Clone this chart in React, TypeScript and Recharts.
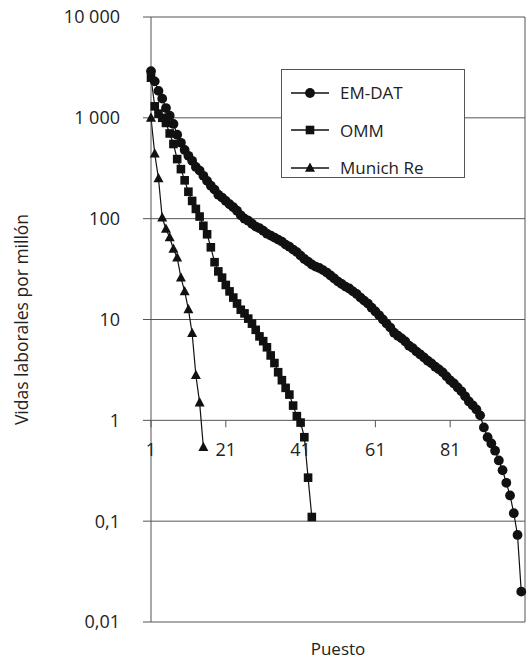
import React from 'react';
import { LineChart, Line, XAxis, YAxis, CartesianGrid, ReferenceLine, ReferenceDot, Legend } from 'recharts';

// values, one per rank (puesto)
const emdatValues = [
  2900, 2300, 1850, 1550, 1250, 1050, 870, 680, 565, 480,
  420, 375, 326, 300, 266, 237, 212, 194, 173, 162,
  150, 139, 130, 120, 108, 100, 95.5, 89, 83.5, 80.5,
  76, 71, 68, 65, 62, 59.2, 55.3, 52.7, 49.4, 46.6,
  43, 39.8, 37.5, 35.1, 33.5, 32.4, 30.9, 29.2, 27.3, 25.5,
  23.8, 22.5, 21.2, 20.3, 19, 17.9, 16.5, 15.4, 14.4, 13.1,
  12, 11, 10, 9.1, 8.3, 7.4, 6.9, 6.5, 6.05, 5.5,
  5.2, 4.8, 4.5, 4.2, 3.9, 3.67, 3.4, 3.2, 2.99, 2.73,
  2.49, 2.32, 2.12, 1.94, 1.73, 1.54, 1.41, 1.28, 1.12, 0.85,
  0.68, 0.59, 0.5, 0.4, 0.32, 0.24, 0.18, 0.12, 0.073, 0.02,
];
const ommValues = [
  2500, 1300, 1100, 1000, 890, 700, 550, 390, 310, 240,
  185, 150, 125, 105, 85, 70, 52, 37, 30, 26,
  22, 19, 16.5, 14.4, 12.5, 11.5, 10.2, 9.1, 7.9, 6.8,
  6.1, 5.3, 4.4, 3.7, 3.0, 2.5, 2.1, 1.8, 1.4, 1.1,
  0.95, 0.68, 0.27, 0.11,
];
const munichValues = [1000, 440, 250, 102, 79, 65, 50, 41, 26, 19, 12.6, 7.3, 2.8, 1.5, 0.54];

const yTicks = [0.01, 0.1, 1, 10, 100, 1000, 10000];
const xTickLabels = [1, 21, 41, 61, 81];
const seriesNames = ['EM-DAT', 'OMM', 'Munich Re'];

const toPoints = (vals: number[]) => vals.map((v, i) => ({ rank: i + 1, value: v }));

const FONT = '"Open Sans", sans-serif';
const GRID = '#555';
const INK = '#222';

const fmtY = (v: number) => {
  if (v >= 1000) return String(v).replace(/\B(?=(\d{3})+(?!\d))/g, ' ');
  return String(v).replace('.', ',');
};

const Circle = (p: any) => {
  const { cx, cy, index } = p;
  if (cx == null || cy == null) return <g key={index} />;
  return <circle key={index} cx={cx} cy={cy} r={4.9} fill="#111" />;
};
const Square = (p: any) => {
  const { cx, cy, index } = p;
  if (cx == null || cy == null) return <g key={index} />;
  return <rect key={index} x={cx - 4.3} y={cy - 4.3} width={8.6} height={8.6} fill="#111" />;
};
const Triangle = (p: any) => {
  const { cx, cy, index } = p;
  if (cx == null || cy == null) return <g key={index} />;
  return <polygon key={index} points={`${cx},${cy - 5.5} ${cx + 5},${cy + 3.8} ${cx - 5},${cy + 3.8}`} fill="#111" />;
};

const markers = [Circle, Square, Triangle];

const LegendBox = () => (
  <div style={{ border: `1px solid ${GRID}`, background: '#fff', width: 184, height: 109, boxSizing: 'border-box', paddingTop: 4 }}>
    {seriesNames.map((name, i) => {
      const M = markers[i];
      return (
        <div key={name} style={{ display: 'flex', alignItems: 'center', height: 37.5 }}>
          <svg width={58} height={20}>
            <line x1={9} y1={10} x2={47} y2={10} stroke="#111" strokeWidth={1.3} />
            <M cx={28} cy={10} index={0} />
          </svg>
          <span style={{ fontFamily: FONT, fontSize: 17, color: INK }}>{name}</span>
        </div>
      );
    })}
  </div>
);

const TickMark = (p: any) => {
  const { cx, cy } = p;
  return <line x1={cx} y1={cy} x2={cx} y2={cy + 7} stroke={GRID} strokeWidth={1} />;
};

export default function App() {
  return (
    <div style={{ position: 'absolute', left: 0, top: 0, width: 528, height: 661, background: '#fff' }}>
      <LineChart width={528} height={661} margin={{ top: 17, right: 3, bottom: 0, left: 0 }}>
        <CartesianGrid horizontal vertical={false} stroke={GRID} strokeWidth={1} />
        <XAxis
          dataKey="rank"
          type="number"
          domain={[1, 101]}
          allowDuplicatedCategory={false}
          tick={false}
          tickLine={false}
          axisLine={false}
          height={39}
          label={{ value: 'Puesto', position: 'insideBottom', offset: 6, fill: INK, fontFamily: FONT, fontSize: 17 }}
        />
        <YAxis
          scale="log"
          domain={[0.01, 10000]}
          ticks={yTicks}
          tickFormatter={fmtY}
          width={151}
          tickSize={8}
          tickMargin={23}
          stroke={GRID}
          tick={{ fill: INK, fontFamily: FONT, fontSize: 18 }}
          label={{ value: 'Vidas laborales por millón', angle: -90, position: 'insideLeft', offset: 22, fill: INK, fontFamily: FONT, fontSize: 17.5, style: { textAnchor: 'middle' } }}
        />
        <ReferenceLine x={101} stroke={GRID} strokeWidth={1} />
        {xTickLabels.map((t) => (
          <ReferenceDot
            key={t}
            x={t}
            y={1}
            r={7}
            shape={TickMark}
            label={{ value: String(t), position: 'bottom', offset: 16, fill: INK, fontFamily: FONT, fontSize: 18 }}
          />
        ))}
        <Line data={toPoints(munichValues)} dataKey="value" name="Munich Re" stroke="#111" strokeWidth={1.2} dot={Triangle} isAnimationActive={false} />
        <Line data={toPoints(ommValues)} dataKey="value" name="OMM" stroke="#111" strokeWidth={1.2} dot={Square} isAnimationActive={false} />
        <Line data={toPoints(emdatValues)} dataKey="value" name="EM-DAT" stroke="#111" strokeWidth={1.2} dot={Circle} isAnimationActive={false} />
        <Legend
          content={LegendBox}
          layout="horizontal"
          verticalAlign="middle"
          align="center"
          wrapperStyle={{ position: 'absolute', left: 281, top: 69, width: 184, height: 109 }}
        />
      </LineChart>
    </div>
  );
}
